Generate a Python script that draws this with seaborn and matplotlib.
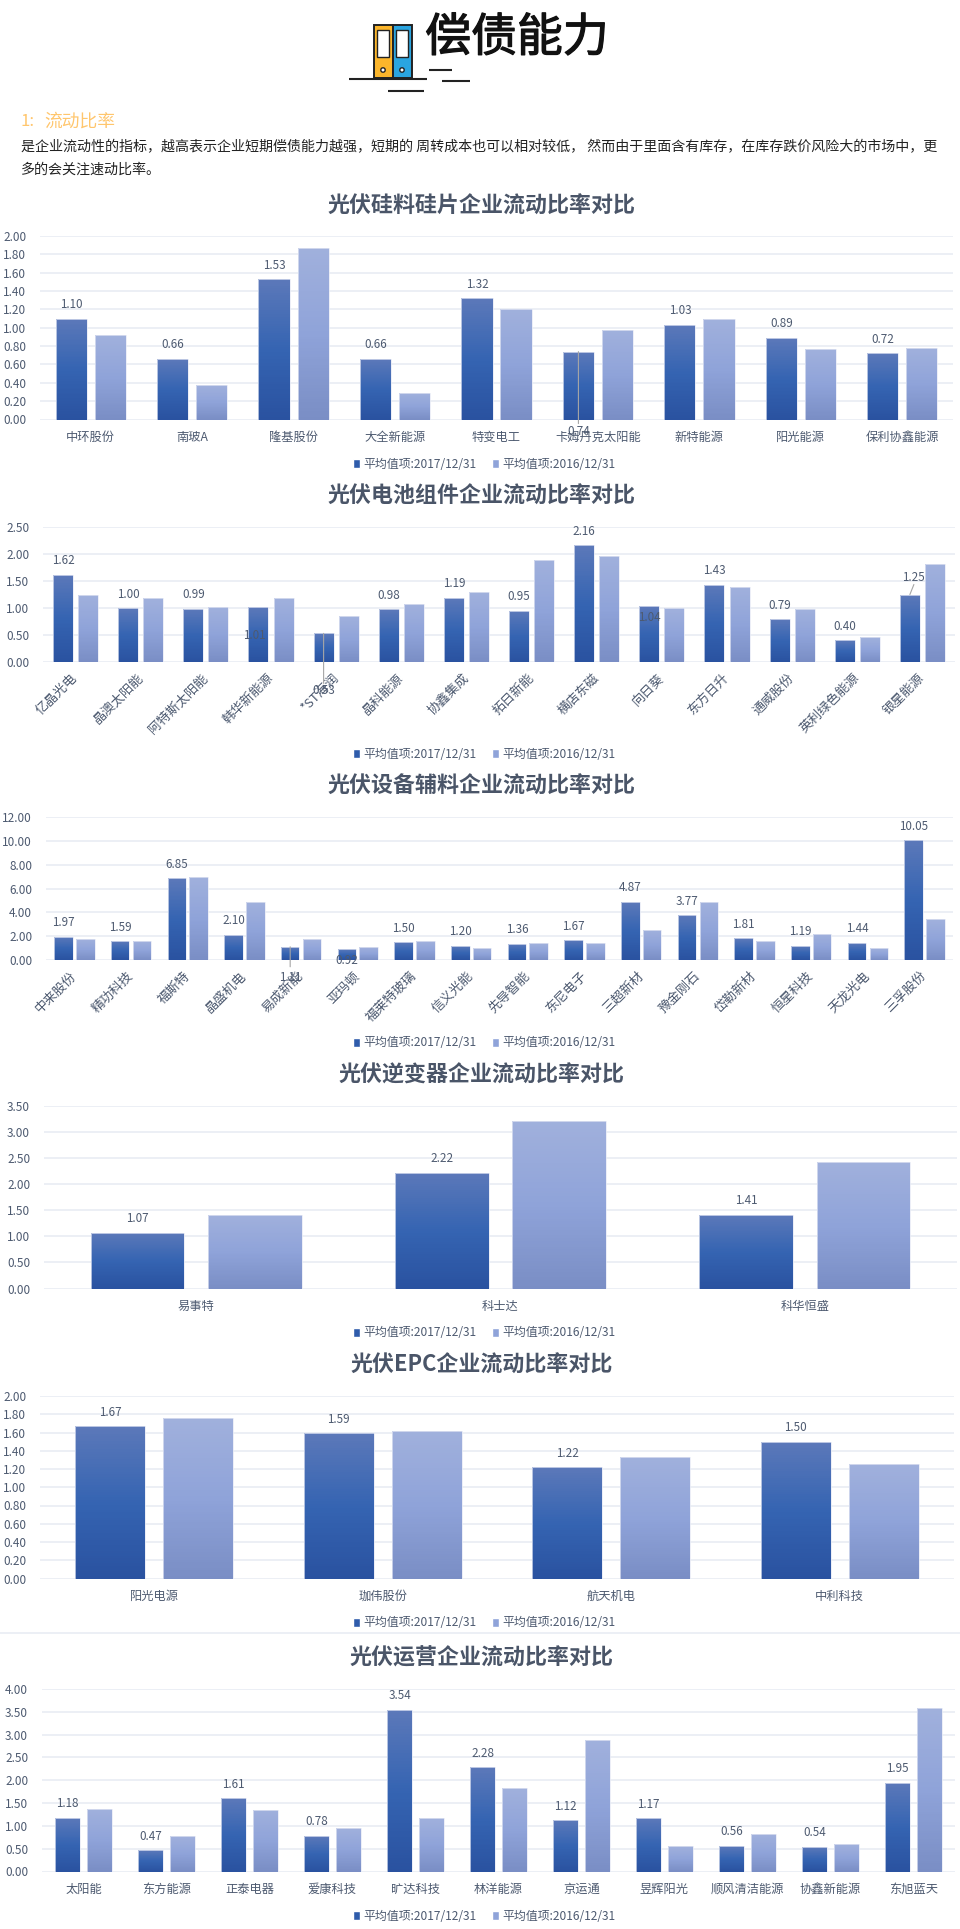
import numpy as np
import pandas as pd
import seaborn as sns
import matplotlib
matplotlib.use('Agg')
import matplotlib.pyplot as plt
import matplotlib.patheffects as pe
from matplotlib.colors import LinearSegmentedColormap
from matplotlib.patches import Rectangle, Circle

series_names = ['平均值项:2017/12/31', '平均值项:2016/12/31']

silicon_names = ['中环股份', '南玻A', '隆基股份', '大全新能源', '特变电工', '卡姆丹克太阳能', '新特能源', '阳光能源', '保利协鑫能源']
silicon_2017 = [1.10, 0.66, 1.53, 0.66, 1.32, 0.74, 1.03, 0.89, 0.72]
silicon_2016 = [0.92, 0.38, 1.87, 0.29, 1.20, 0.98, 1.09, 0.77, 0.78]
silicon_ticks = [0, 0.2, 0.4, 0.6, 0.8, 1.0, 1.2, 1.4, 1.6, 1.8, 2.0]

cell_names = ['亿晶光电', '晶澳太阳能', '阿特斯太阳能', '韩华新能源', '*ST海润', '晶科能源', '协鑫集成', '拓日新能',
              '横店东磁', '向日葵', '东方日升', '通威股份', '英利绿色能源', '银星能源']
cell_2017 = [1.62, 1.00, 0.99, 1.01, 0.53, 0.98, 1.19, 0.95, 2.16, 1.04, 1.43, 0.79, 0.40, 1.25]
cell_2016 = [1.25, 1.18, 1.02, 1.18, 0.85, 1.07, 1.30, 1.89, 1.97, 1.00, 1.38, 0.98, 0.46, 1.82]
cell_ticks = [0, 0.5, 1.0, 1.5, 2.0, 2.5]

equip_names = ['中来股份', '精功科技', '福斯特', '晶盛机电', '易成新能', '亚玛顿', '福莱特玻璃', '信义光能',
               '先导智能', '东尼电子', '三超新材', '豫金刚石', '岱勒新材', '恒星科技', '天龙光电', '三孚股份']
equip_2017 = [1.97, 1.59, 6.85, 2.10, 1.11, 0.92, 1.50, 1.20, 1.36, 1.67, 4.87, 3.77, 1.81, 1.19, 1.44, 10.05]
equip_2016 = [1.78, 1.60, 7.00, 4.85, 1.78, 1.08, 1.60, 1.00, 1.43, 1.43, 2.55, 4.85, 1.60, 2.20, 1.00, 3.40]
equip_ticks = [0, 2, 4, 6, 8, 10, 12]

inverter_names = ['易事特', '科士达', '科华恒盛']
inverter_2017 = [1.07, 2.22, 1.41]
inverter_2016 = [1.41, 3.22, 2.42]
inverter_ticks = [0, 0.5, 1.0, 1.5, 2.0, 2.5, 3.0, 3.5]

epc_names = ['阳光电源', '珈伟股份', '航天机电', '中利科技']
epc_2017 = [1.67, 1.59, 1.22, 1.50]
epc_2016 = [1.76, 1.62, 1.33, 1.25]
epc_ticks = [0, 0.2, 0.4, 0.6, 0.8, 1.0, 1.2, 1.4, 1.6, 1.8, 2.0]

operator_names = ['太阳能', '东方能源', '正泰电器', '爱康科技', '旷达科技', '林洋能源', '京运通', '昱辉阳光',
                  '顺风清洁能源', '协鑫新能源', '东旭蓝天']
operator_2017 = [1.18, 0.47, 1.61, 0.78, 3.54, 2.28, 1.12, 1.17, 0.56, 0.54, 1.95]
operator_2016 = [1.37, 0.78, 1.35, 0.96, 1.18, 1.82, 2.88, 0.55, 0.82, 0.60, 3.58]
operator_ticks = [0, 0.5, 1.0, 1.5, 2.0, 2.5, 3.0, 3.5, 4.0]

FIG_W, FIG_H = 960, 1929
TEXT = '#4d5a70'
GRID = '#e9ecf3'

sns.set_theme(style='white')
plt.rcParams['font.family'] = ['Noto Sans CJK SC', 'DejaVu Sans']
plt.rcParams['axes.unicode_minus'] = False

top_cmap = LinearSegmentedColormap.from_list('dark', ['#5b78b9', '#3564b2', '#2a52a0'])
low_cmap = LinearSegmentedColormap.from_list('light', ['#a0b0dc', '#8fa3d9', '#7a8ec5'])

fig = plt.figure(figsize=(FIG_W / 100, FIG_H / 100), dpi=100, facecolor='white')

# Whole page layer in pixels, used for the header and the titles.
page = fig.add_axes([0, 0, 1, 1])
page.set_xlim(0, FIG_W)
page.set_ylim(FIG_H, 0)
page.axis('off')


def draw_header():
    page.add_patch(Rectangle((374, 25), 18.5, 53, fc='#fbb52b', ec='#222222', lw=1.4))
    page.add_patch(Rectangle((393, 25), 18.5, 53, fc='#2aa5e0', ec='#222222', lw=1.4))
    page.add_patch(Rectangle((377, 30), 12, 27, fc='white', ec='#222222', lw=1))
    page.add_patch(Rectangle((396, 30), 12, 27, fc='white', ec='#222222', lw=1))
    page.add_patch(Circle((383, 70), 2.2, fc='white', ec='#222222', lw=1))
    page.add_patch(Circle((402, 70), 2.2, fc='white', ec='#222222', lw=1))
    for x0, x1, y in [(349, 427, 79), (429, 452, 70), (442, 470, 81), (388, 424, 91)]:
        page.plot([x0, x1], [y, y], color='#222222', lw=1.5, solid_capstyle='butt')
    head = page.text(517, 38, '偿债能力', fontsize=33, color='#111111', ha='center', va='center')
    head.set_path_effects([pe.withStroke(linewidth=0.9, foreground='#111111')])
    page.text(21, 122, '1:', fontsize=12, color='#ffc66d', va='center')
    page.text(44, 122, '流动比率', fontsize=12.8, color='#ffc66d', va='center')
    page.text(21, 147, '是企业流动性的指标，越高表示企业短期偿债能力越强，短期的 周转成本也可以相对较低， '
                       '然而由于里面含有库存，在库存跌价风险大的市场中，更',
              fontsize=10.1, color='#222222', va='center')
    page.text(21, 170, '多的会关注速动比率。', fontsize=10.1, color='#222222', va='center')
    page.plot([0, FIG_W], [1633, 1633], color=GRID, lw=1.2)


def draw_chart(title, names, vals_a, vals_b, ticks, box, title_y, legend_y, rotate=False, shifts=None, gap=0.2):
    left, right, top, bottom = box
    ax = fig.add_axes([left / FIG_W, 1 - bottom / FIG_H, (right - left) / FIG_W, (bottom - top) / FIG_H])
    ax.patch.set_alpha(0)
    df = pd.DataFrame({
        'company': names * 2,
        'ratio': vals_a + vals_b,
        'period': [series_names[0]] * len(names) + [series_names[1]] * len(names),
    })
    sns.barplot(data=df, x='company', y='ratio', hue='period', hue_order=series_names,
                palette=['#2f5cab', '#8fa3d9'], saturation=1, width=0.77, gap=gap, errorbar=None, ax=ax)

    ax.set_xlim(-0.5, len(names) - 0.5)
    ax.set_ylim(0, ticks[-1])

    # Paint the gradient over every bar, taking the size from the bar itself.
    shade = np.linspace(0, 1, 60).reshape(-1, 1)
    for container, cmap in zip(ax.containers, [top_cmap, low_cmap]):
        for bar in container:
            x0, y0 = bar.get_x(), bar.get_y()
            x1, y1 = x0 + bar.get_width(), y0 + bar.get_height()
            ax.pcolormesh([x0, x1], np.linspace(y1, y0, 61), shade, cmap=cmap, vmin=0, vmax=1, zorder=2.5)
            bar.set_facecolor('none')
            bar.set_edgecolor('#e4e8f4')
            bar.set_linewidth(0.5)
            bar.set_zorder(3)
    ax.set_xlim(-0.5, len(names) - 0.5)
    ax.set_ylim(0, ticks[-1])

    # Value labels on the first series, some were pushed around in the original.
    shifts = shifts or {}
    for i, bar in enumerate(ax.containers[0]):
        dx, dy, leader = shifts.get(i, (0, -14, None))
        xc = bar.get_x() + bar.get_width() / 2
        ax.annotate(f'{vals_a[i]:.2f}', (xc, vals_a[i]), xytext=(dx, -dy), textcoords='offset pixels',
                    ha='center', va='center', fontsize=8.4, color=TEXT, zorder=5, annotation_clip=False)
        if leader is not None:
            ax.annotate('', (xc, vals_a[i]), xytext=(leader[0], -leader[1]), textcoords='offset pixels',
                        arrowprops=dict(arrowstyle='-', color='#a6a6a6', lw=0.8, shrinkA=0, shrinkB=0),
                        zorder=5, annotation_clip=False)

    ax.set_yticks(ticks)
    ax.set_yticklabels([f'{t:.2f}' for t in ticks], fontsize=8.5, color=TEXT)
    ax.yaxis.grid(True, color=GRID, lw=1.2)
    ax.xaxis.grid(False)
    ax.set_axisbelow(True)
    ax.set_xlabel('')
    ax.set_ylabel('')
    ax.tick_params(axis='both', length=0)
    ax.tick_params(axis='y', pad=10)
    if rotate:
        ax.tick_params(axis='x', pad=10)
        ax.set_xticks(range(len(names)))
        ax.set_xticklabels(names, rotation=45, ha='right', rotation_mode='anchor', va='center', fontsize=9.4, color=TEXT)
    else:
        ax.tick_params(axis='x', pad=8)
        ax.set_xticks(range(len(names)))
        ax.set_xticklabels(names, fontsize=8.8, color=TEXT)
    sns.despine(ax=ax, left=True, bottom=True)

    page.text(482, title_y, title, fontsize=15.8, fontweight='bold', color='#4a5568', ha='center', va='center')
    handles, labels = ax.get_legend_handles_labels()
    ax.legend(handles, labels, loc='center', bbox_to_anchor=(484 / FIG_W, 1 - legend_y / FIG_H),
              bbox_transform=fig.transFigure, ncol=2, frameon=False, fontsize=8.6, labelcolor=TEXT,
              handlelength=0.6, handleheight=0.8, handletextpad=0.25, columnspacing=1.3, title=None,
              borderpad=0, borderaxespad=0)


draw_header()
draw_chart('光伏硅料硅片企业流动比率对比', silicon_names, silicon_2017, silicon_2016, silicon_ticks,
           (40, 953, 236, 419.5), 206, 464, shifts={5: (0, 80, (0, 72))})
draw_chart('光伏电池组件企业流动比率对比', cell_names, cell_2017, cell_2016, cell_ticks,
           (43, 955, 527, 662), 496, 754, rotate=True,
           shifts={3: (-4, 28, None), 4: (0, 57, (0, 50)), 9: (0, 12, None), 13: (4, -17, (4, -10))})
draw_chart('光伏设备辅料企业流动比率对比', equip_names, equip_2017, equip_2016, equip_ticks,
           (46, 953, 817, 960), 786, 1043, rotate=True, gap=0.15,
           shifts={4: (0, 31, (0, 20)), 5: (0, 11, None)})
draw_chart('光伏逆变器企业流动比率对比', inverter_names, inverter_2017, inverter_2016, inverter_ticks,
           (44, 957, 1106, 1288.5), 1075, 1333)
draw_chart('光伏EPC企业流动比率对比', epc_names, epc_2017, epc_2016, epc_ticks,
           (40, 954, 1396, 1578.5), 1365, 1623)
draw_chart('光伏运营企业流动比率对比', operator_names, operator_2017, operator_2016, operator_ticks,
           (42, 955, 1689, 1871.5), 1658, 1916)

fig.savefig('out.png', dpi=100)
